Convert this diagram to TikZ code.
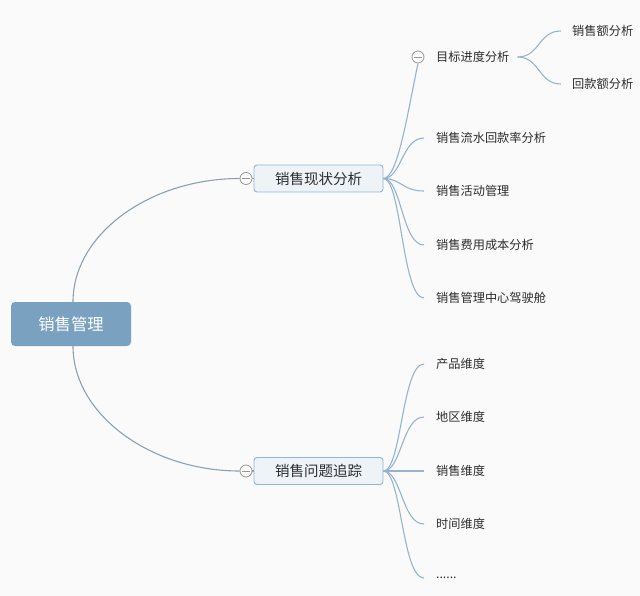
\documentclass[tikz,border=0pt]{standalone}
\usepackage{fontspec}
\setmainfont{Noto Sans CJK SC}
\definecolor{bgc}{RGB}{250,250,250}
\definecolor{rootfill}{RGB}{122,162,192}
\definecolor{lvfill}{RGB}{238,243,248}
\definecolor{lvdraw}{RGB}{150,180,205}
\definecolor{linec}{RGB}{150,180,205}
\definecolor{rootline}{RGB}{140,160,178}
\definecolor{txt}{RGB}{45,45,45}
\definecolor{circc}{RGB}{150,150,150}
\begin{document}
\begin{tikzpicture}[x=1pt,y=-1pt,
  rootbox/.style={rectangle,rounded corners=4pt,fill=rootfill,text=white,minimum width=120pt,minimum height=44pt,font=\fontsize{16.3}{18}\selectfont},
  lvbox/.style={rectangle,rounded corners=3pt,fill=lvfill,draw=lvdraw,line width=0.9pt,text=txt,minimum width=129pt,minimum height=27pt,font=\fontsize{14.5}{16}\selectfont},
  leaf/.style={anchor=west,inner xsep=12pt,inner ysep=0pt,text=txt,font=\fontsize{12.2}{14}\selectfont},
  fold/.style={circle,draw=circc,fill=white,line width=0.8pt,minimum size=12pt,inner sep=0pt,
    path picture={\draw[circc,line width=0.8pt] ([xshift=-4pt]path picture bounding box.center) -- ([xshift=4pt]path picture bounding box.center);}},
  conn/.style={draw=linec,line width=1.1pt},
  rconn/.style={draw=rootline,line width=1.1pt}]
\fill[bgc] (0,0) rectangle (640,596);
\useasboundingbox (0,0) rectangle (640,596);

% root
\node[rootbox] (root) at (71,324) {销售管理};

% level 1
\node[lvbox] (a) at (318.5,178.5) {销售现状分析};
\node[lvbox] (b) at (318.5,471) {销售问题追踪};
\node[fold] (fa) at (246,178.5) {};
\node[fold] (fb) at (246,471) {};

% root connectors
\draw[rconn] ([xshift=2pt]root.north) .. controls (73,234) and (150,178.5) .. (fa.west);
\draw[rconn] ([xshift=2pt]root.south) .. controls (73,414) and (150,471) .. (fb.west);
\draw[rconn] (fa.east) -- (a.west);
\draw[rconn] (fb.east) -- (b.west);

% level 2 top
\node[fold] (fa1) at (418,57) {};
\node[leaf,inner xsep=0pt] (a1) at (436,57) {目标进度分析};
\node[leaf] (a2) at (424,138) {销售流水回款率分析};
\node[leaf] (a3) at (424,191) {销售活动管理};
\node[leaf] (a4) at (424,245) {销售费用成本分析};
\node[leaf] (a5) at (424,298) {销售管理中心驾驶舱};

\draw[conn] (a.east) .. controls (398,178.5) and (408,110) .. (fa1.south);
\foreach \n in {a2,a3,a4,a5}{
  \draw[conn] (a.east) .. controls ([xshift=18pt]a.east) and ([xshift=-22pt]\n.west) .. (\n.west);
}

% level 3
\node[leaf,inner xsep=11pt] (a11) at (561,31) {销售额分析};
\node[leaf,inner xsep=11pt] (a12) at (561,84) {回款额分析};
\path (a1.east) ++(8,0) coordinate (a1o);
\draw[conn] (a1o) .. controls (540,57) and (538,31) .. (a11.west);
\draw[conn] (a1o) .. controls (540,57) and (538,84) .. (a12.west);

% level 2 bottom
\node[leaf] (b1) at (424,364) {产品维度};
\node[leaf] (b2) at (424,417) {地区维度};
\node[leaf] (b3) at (424,471) {销售维度};
\node[leaf] (b4) at (424,524) {时间维度};
\node[leaf] (b5) at (424,578) {......};
\foreach \n in {b1,b2,b3,b4,b5}{
  \draw[conn] (b.east) .. controls ([xshift=18pt]b.east) and ([xshift=-22pt]\n.west) .. (\n.west);
}
\end{tikzpicture}
\end{document}
